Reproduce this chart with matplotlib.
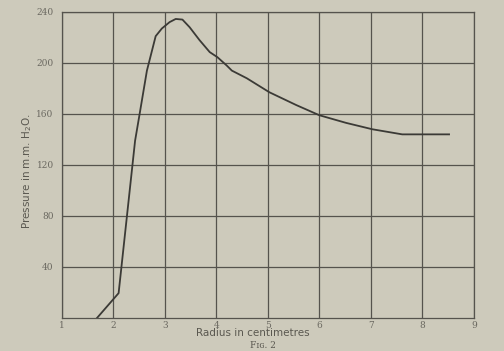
import numpy as np
import matplotlib
matplotlib.use("Agg")
import matplotlib.pyplot as plt

# values
radius = [1.68, 2.10, 2.42, 2.50, 2.65, 2.82, 2.94, 3.09, 3.21, 3.34, 3.48,
          3.67, 3.87, 4.02, 4.20, 4.30, 4.59, 5.03, 5.55, 6.00, 6.52, 7.03,
          7.61, 8.52]
pressure = [0, 19.5, 139, 158, 194, 221, 227, 232, 234.5, 234, 228,
            218, 208.5, 204.5, 198, 194, 188, 177, 167, 159, 153, 148,
            144, 144]
xticks = [1, 2, 3, 4, 5, 6, 7, 8, 9]
yticks = [40, 80, 120, 160, 200, 240]

paper = "#cdcabb"
ink = "#3b3a36"

fig = plt.figure(figsize=(5.04, 3.51), dpi=100, facecolor=paper)
ax = fig.add_axes([0.123, 0.094, 0.817, 0.872], facecolor=paper)

ax.plot(radius, pressure, color=ink, lw=1.3, solid_joinstyle="round")

ax.set_xlim(1, 9)
ax.set_ylim(0, 240)
ax.set_xticks(xticks)
ax.set_yticks(yticks)
ax.grid(True, color="#55534d", lw=0.9)
for s in ax.spines.values():
    s.set_color("#55534d")
    s.set_linewidth(0.9)

ax.tick_params(length=0, labelsize=6.5, colors="#6a6860")
ax.tick_params(axis="x", pad=2)
ax.tick_params(axis="y", pad=6)
for lbl in ax.get_xticklabels() + ax.get_yticklabels():
    lbl.set_family("DejaVu Serif")

ax.set_ylabel("Pressure in m.m. H$_2$O.", fontsize=7.5, color="#5a5850", va="center")
ax.yaxis.set_label_coords(-0.085, 0.48)
ax.set_xlabel("Radius in centimetres", fontsize=7.5, color="#5a5850", va="center")
ax.xaxis.set_label_coords(0.464, -0.05)
fig.text(0.522, 1 - 346 / 351, "Fɪɢ. 2", fontsize=6.5, color="#5a5850",
         family="DejaVu Serif", ha="center", va="center")

fig.savefig("out.png", dpi=100, facecolor=paper)
